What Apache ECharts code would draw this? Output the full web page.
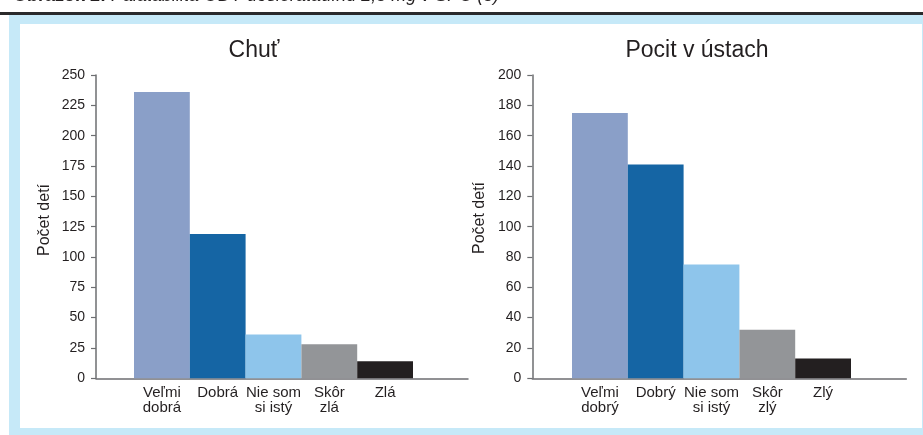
<!DOCTYPE html>
<html>
<head>
<meta charset="utf-8">
<script src="https://cdn.jsdelivr.net/npm/echarts@6/dist/echarts.min.js"></script>
<style>
html,body{margin:0;padding:0;background:#fff;}
#c{width:923px;height:435px;}
</style>
</head>
<body>
<div id="c"></div>
<script>
var caption = "Obrázok 2:";
var captionRest = " Palatabilita ODT desloratadínu 2,5 mg v SPC (5)";
var leftTitle = "Chuť";
var rightTitle = "Pocit v ústach";
var yName = "Počet detí";
var leftCats = ["Veľmi\ndobrá", "Dobrá", "Nie som\nsi istý", "Skôr\nzlá", "Zlá"];
var leftVals = [236, 119, 36, 28, 14];
var rightCats = ["Veľmi\ndobrý", "Dobrý", "Nie som\nsi istý", "Skôr\nzlý", "Zlý"];
var rightVals = [175, 141, 75, 32, 13];
var colors = ["#8a9fc8", "#1565a4", "#8ec5eb", "#939598", "#231f20"];

var FONT = "Liberation Sans, Arial, sans-serif";
var TXT = "#231f20";
var AX = "#6d6e71";
var TOP = 75, H = 303.3;

function frameAxes(max, interval, gi) {
  return {
    x: {gridIndex: gi, type: 'category', data: [''], axisLine: {show: true, lineStyle: {color: AX, width: 1.5}}, axisTick: {show: false}, axisLabel: {show: false}},
    y: {gridIndex: gi, type: 'value', min: 0, max: max, interval: interval, splitLine: {show: false},
        axisLine: {show: true, lineStyle: {color: AX, width: 1.5}},
        axisTick: {show: true, length: 5, lineStyle: {color: AX, width: 1.2}},
        axisLabel: {margin: 11, fontSize: 14, color: TXT, fontFamily: FONT}}
  };
}

var chart = echarts.init(document.getElementById('c'), null, {renderer: 'canvas'});

var grids = [
  {left: 96, top: TOP, width: 372, height: H},
  {left: 134, top: TOP, width: 279, height: H},
  {left: 532.3, top: TOP, width: 374, height: H},
  {left: 572, top: TOP, width: 279, height: H}
];

var fa = frameAxes(250, 25, 0);
var fb = frameAxes(200, 20, 2);

function catAxis(grid, cats) {
  return {gridIndex: grid, type: 'category', data: cats, axisLine: {show: false}, axisTick: {show: false},
    axisLabel: {margin: 7, fontSize: 15, color: TXT, fontFamily: FONT, lineHeight: 15, interval: 0}};
}
function hiddenY(grid, max) {
  return {gridIndex: grid, type: 'value', min: 0, max: max, show: false, splitLine: {show: false}};
}
function colored(vals) {
  return vals.map(function (v, i) { return {value: v, itemStyle: {color: colors[i]}}; });
}

chart.setOption({
  animation: false,
  backgroundColor: '#ffffff',
  grid: grids,
  xAxis: [fa.x, catAxis(1, leftCats), fb.x, catAxis(3, rightCats)],
  yAxis: [fa.y, hiddenY(1, 250), fb.y, hiddenY(3, 200)],
  series: [
    {type: 'bar', xAxisIndex: 1, yAxisIndex: 1, data: colored(leftVals), barWidth: '100%', barCategoryGap: 0},
    {type: 'bar', xAxisIndex: 3, yAxisIndex: 3, data: colored(rightVals), barWidth: '100%', barCategoryGap: 0}
  ],
  graphic: [
    {type: 'rect', z: -10, shape: {x: 9, y: 15, width: 914, height: 420}, style: {fill: '#c6e9f8'}},
    {type: 'rect', z: -9, shape: {x: 20, y: 24, width: 902, height: 404}, style: {fill: '#ffffff'}},
    {type: 'rect', z: -8, shape: {x: 0, y: 12, width: 923, height: 3}, style: {fill: '#2a2a2b'}},
    {type: 'text', z: 5, x: 13, y: 5, style: {
      text: '{b|' + caption + '}{i|' + captionRest + '}',
      verticalAlign: 'bottom', fill: TXT,
      rich: {b: {fontWeight: 'bold', fontSize: 18, fontFamily: FONT, fill: TXT},
             i: {fontStyle: 'italic', fontSize: 18, fontFamily: FONT, fill: TXT}}
    }},
    {type: 'text', x: 254, y: 51, style: {text: leftTitle, font: '23px ' + FONT, fill: TXT, align: 'center', verticalAlign: 'middle'}},
    {type: 'text', x: 697, y: 51, style: {text: rightTitle, font: '23px ' + FONT, fill: TXT, align: 'center', verticalAlign: 'middle'}},
    {type: 'text', x: 45, y: 220, rotation: Math.PI / 2, style: {text: yName, font: '16px ' + FONT, fill: TXT, align: 'center', verticalAlign: 'middle'}},
    {type: 'text', x: 480, y: 218, rotation: Math.PI / 2, style: {text: yName, font: '16px ' + FONT, fill: TXT, align: 'center', verticalAlign: 'middle'}}
  ]
});
</script>
</body>
</html>
